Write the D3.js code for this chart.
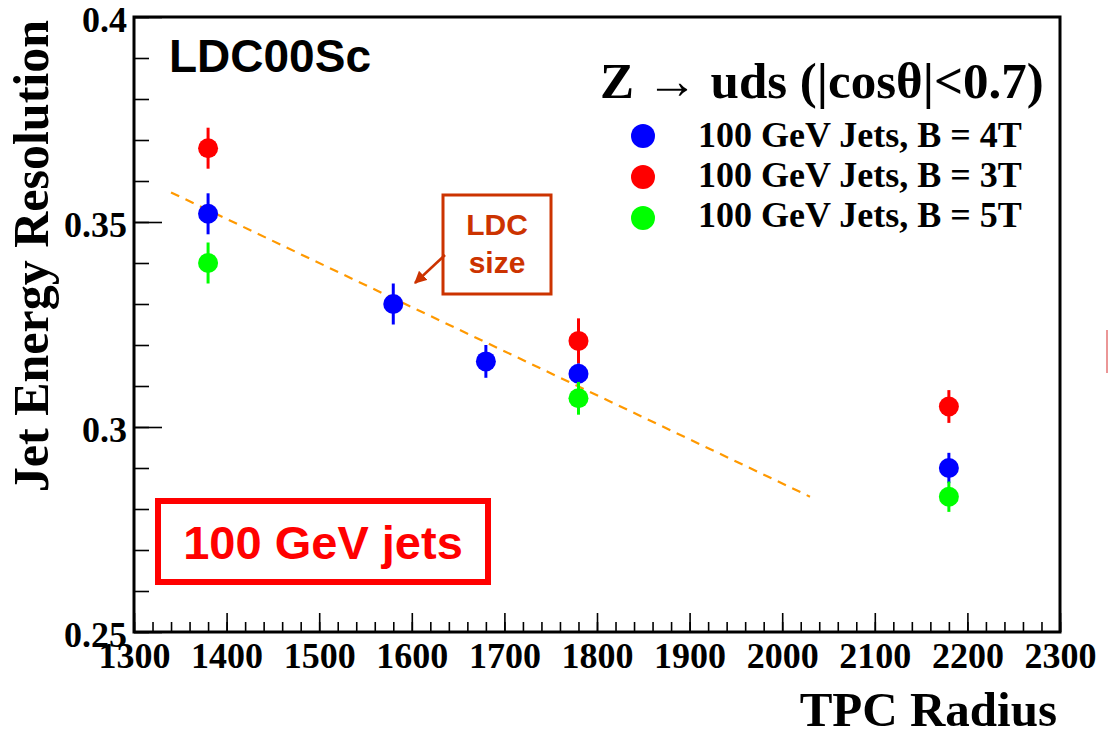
<!DOCTYPE html>
<html lang="en">
<head>
    <meta charset="UTF-8">
    <title>Jet Energy Resolution vs TPC Radius</title>
    <script src="https://cdn.jsdelivr.net/npm/d3@7"></script>
    <style>
        body { margin: 0; background: #fff; }
    </style>
</head>
<body>
<script type="application/javascript">
    // 数据：TPC 半径与喷注能量分辨率
    const radii4T = [1380, 1580, 1680, 1780, 2180];
    const res4T = [0.352, 0.330, 0.316, 0.313, 0.290];
    const err4T = [0.005, 0.005, 0.004, 0.0025, 0.0037];

    const radii3T = [1380, 1780, 2180];
    const res3T = [0.368, 0.321, 0.305];
    const err3T = [0.005, 0.0055, 0.004];

    const radii5T = [1380, 1780, 2180];
    const res5T = [0.340, 0.307, 0.283];
    const err5T = [0.005, 0.004, 0.0037];

    // 虚线拟合的两个端点
    const fitR = [1340, 2030];
    const fitRes = [0.3572, 0.2830];

    const xTicks = [1300, 1400, 1500, 1600, 1700, 1800, 1900, 2000, 2100, 2200, 2300];
    const yTicks = [0.25, 0.3, 0.35, 0.4];
    const legendLabels = ['100 GeV Jets, B = 4T', '100 GeV Jets, B = 3T', '100 GeV Jets, B = 5T'];

    const w = 1108, h = 733;
    const serif = '"Liberation Serif", "DejaVu Serif", serif';
    const sans = '"Liberation Sans", Arial, sans-serif';

    let svg = d3.select('body')
        .append('svg')
        .attr('width', w)
        .attr('height', h);

    let xScale = d3.scaleLinear().domain([1300, 2300]).range([134, 1060]);
    let yScale = d3.scaleLinear().domain([0.25, 0.4]).range([632, 17]);

    // 刻度朝内（ROOT 风格）
    let xMinor = d3.range(1300, 2301, 20);
    let yMinor = d3.range(0, 16).map(i => 0.25 + i * 0.01);

    svg.append('g')
        .attr('transform', 'translate(0,632)')
        .call(d3.axisBottom(xScale).tickValues(xMinor).tickSize(-10).tickFormat(''))
        .call(g => g.select('.domain').remove())
        .selectAll('line').attr('stroke', '#000').attr('stroke-width', 1.6);

    let xAxis = svg.append('g')
        .attr('transform', 'translate(0,632)')
        .call(d3.axisBottom(xScale).tickValues(xTicks).tickSize(-19).tickFormat(d3.format('d')));
    xAxis.select('.domain').remove();
    xAxis.selectAll('line').attr('stroke', '#000').attr('stroke-width', 1.6);
    xAxis.selectAll('text')
        .attr('y', 36).attr('dy', 0)
        .attr('font-family', serif).attr('font-weight', 'bold').attr('font-size', '36px')
        .attr('fill', '#000');

    svg.append('g')
        .attr('transform', 'translate(134,0)')
        .call(d3.axisLeft(yScale).tickValues(yMinor).tickSize(-15).tickFormat(''))
        .call(g => g.select('.domain').remove())
        .selectAll('line').attr('stroke', '#000').attr('stroke-width', 1.6);

    let yAxis = svg.append('g')
        .attr('transform', 'translate(134,0)')
        .call(d3.axisLeft(yScale).tickValues(yTicks).tickSize(-28).tickPadding(7).tickFormat(d => d3.format('')(+d.toFixed(2))));
    yAxis.select('.domain').remove();
    yAxis.selectAll('line').attr('stroke', '#000').attr('stroke-width', 1.6);
    yAxis.selectAll('text')
        .attr('dy', 14)
        .attr('font-family', serif).attr('font-weight', 'bold').attr('font-size', '36px')
        .attr('fill', '#000');

    // 外框
    svg.append('rect')
        .attr('x', 134).attr('y', 17)
        .attr('width', 1060 - 134).attr('height', 632 - 17)
        .attr('fill', 'none').attr('stroke', '#000').attr('stroke-width', 3);

    // 坐标轴标题
    svg.append('text')
        .text('TPC Radius')
        .attr('x', 1057).attr('y', 726)
        .attr('text-anchor', 'end')
        .attr('font-family', serif).attr('font-weight', 'bold').attr('font-size', '49px');

    svg.append('text')
        .text('Jet Energy Resolution')
        .attr('transform', 'translate(48,20) rotate(-90)')
        .attr('text-anchor', 'end')
        .attr('font-family', serif).attr('font-weight', 'bold').attr('font-size', '50px');

    // 拟合虚线
    svg.append('line')
        .attr('x1', xScale(fitR[0])).attr('y1', yScale(fitRes[0]))
        .attr('x2', xScale(fitR[1])).attr('y2', yScale(fitRes[1]))
        .attr('stroke', '#ff9900').attr('stroke-width', 2.2)
        .attr('stroke-dasharray', '9,7');

    // 数据点与误差棒
    const series = [
        {r: radii3T, v: res3T, e: err3T, color: '#ff0000'},
        {r: radii4T, v: res4T, e: err4T, color: '#0000ff'},
        {r: radii5T, v: res5T, e: err5T, color: '#00ff00'}
    ];

    series.forEach(s => {
        let pts = s.r.map((r, i) => ({r: r, v: s.v[i], e: s.e[i]}));
        let g = svg.append('g');
        g.selectAll('line')
            .data(pts)
            .enter()
            .append('line')
            .attr('x1', d => xScale(d.r)).attr('x2', d => xScale(d.r))
            .attr('y1', d => yScale(d.v + d.e)).attr('y2', d => yScale(d.v - d.e))
            .attr('stroke', s.color).attr('stroke-width', 3);
        g.selectAll('circle')
            .data(pts)
            .enter()
            .append('circle')
            .attr('cx', d => xScale(d.r))
            .attr('cy', d => yScale(d.v))
            .attr('r', 10)
            .attr('fill', s.color);
    });

    // 图例
    svg.append('text')
        .text('Z \u2192 uds (|cos\u03b8|<0.7)')
        .attr('x', 600).attr('y', 98)
        .attr('font-family', serif).attr('font-weight', 'bold').attr('font-size', '51px');

    const legendColors = ['#0000ff', '#ff0000', '#00ff00'];
    legendLabels.forEach((t, i) => {
        svg.append('circle')
            .attr('cx', 643).attr('cy', 136 + i * 41)
            .attr('r', 12)
            .attr('fill', legendColors[i]);
        svg.append('text')
            .text(t)
            .attr('x', 698).attr('y', 147 + i * 40)
            .attr('font-family', serif).attr('font-weight', 'bold').attr('font-size', '36px');
    });

    // 左上角标签
    svg.append('text')
        .text('LDC00Sc')
        .attr('x', 169).attr('y', 72)
        .attr('font-family', sans).attr('font-weight', 'bold').attr('font-size', '46px');

    // LDC size 注释框
    const annot = '#cc3300';
    svg.append('rect')
        .attr('x', 443).attr('y', 195).attr('width', 108).attr('height', 99)
        .attr('fill', 'none').attr('stroke', annot).attr('stroke-width', 3);
    svg.append('text').text('LDC')
        .attr('x', 497).attr('y', 235).attr('text-anchor', 'middle')
        .attr('font-family', sans).attr('font-weight', 'bold').attr('font-size', '30px')
        .attr('fill', annot);
    svg.append('text').text('size')
        .attr('x', 497).attr('y', 273).attr('text-anchor', 'middle')
        .attr('font-family', sans).attr('font-weight', 'bold').attr('font-size', '30px')
        .attr('fill', annot);

    svg.append('defs').append('marker')
        .attr('id', 'arrow')
        .attr('viewBox', '0 0 10 10')
        .attr('refX', 9).attr('refY', 5)
        .attr('markerWidth', 5).attr('markerHeight', 5)
        .attr('orient', 'auto')
        .append('path')
        .attr('d', 'M0,0 L10,5 L0,10 z')
        .attr('fill', annot);
    svg.append('line')
        .attr('x1', 445).attr('y1', 255)
        .attr('x2', 415).attr('y2', 283)
        .attr('stroke', annot).attr('stroke-width', 2.5)
        .attr('marker-end', 'url(#arrow)');

    // 100 GeV jets 框
    svg.append('rect')
        .attr('x', 158).attr('y', 501).attr('width', 330).attr('height', 81)
        .attr('fill', 'none').attr('stroke', '#ff0000').attr('stroke-width', 6);
    svg.append('text').text('100 GeV jets')
        .attr('x', 323).attr('y', 559).attr('text-anchor', 'middle')
        .attr('font-family', sans).attr('font-weight', 'bold').attr('font-size', '47px')
        .attr('fill', '#ff0000');

    // 右边缘的残留线段
    svg.append('line')
        .attr('x1', 1107).attr('y1', 330).attr('x2', 1107).attr('y2', 373)
        .attr('stroke', '#e57373').attr('stroke-width', 1.5);
</script>
</body>
</html>
